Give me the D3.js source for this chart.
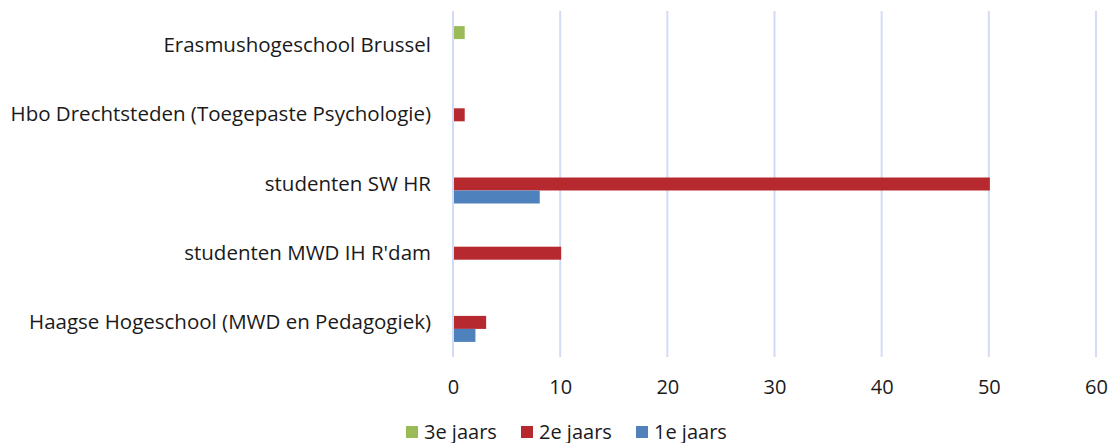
<!DOCTYPE html>
<html>
<head>
<meta charset="utf-8">
<script src="https://cdn.jsdelivr.net/npm/d3@7"></script>
<style>
  body { margin: 0; background: #fff; }
  text { font-family: "Open Sans", "Noto Sans", sans-serif; fill: #1a1a1a; }
</style>
</head>
<body>
<svg id="chart" width="1112" height="443"></svg>
<script>
// categories, top to bottom as shown
var categories = [
  "Erasmushogeschool Brussel",
  "Hbo Drechtsteden (Toegepaste Psychologie)",
  "studenten SW HR",
  "studenten MWD IH R'dam",
  "Haagse Hogeschool (MWD en Pedagogiek)"
];
var series = ["3e jaars", "2e jaars", "1e jaars"];
var jaars3 = [1, 0, 0, 0, 0];
var jaars2 = [0, 1, 50, 10, 3];
var jaars1 = [0, 0, 8, 0, 2];
var xTicks = [0, 10, 20, 30, 40, 50, 60];
var colors = ["#9bbb59", "#b5292f", "#4f81bd"];

var values = [jaars3, jaars2, jaars1];
var margin = { top: 11, right: 15, bottom: 86, left: 453 },
  width = 1112 - margin.left - margin.right,
  height = 443 - margin.top - margin.bottom;

var x = d3.scaleLinear().domain([0, 60]).range([0, 1096 - margin.left]);
var y = d3.scaleBand().domain(categories).range([0, height]);
var inner = d3.scaleBand().domain(series).range([y.bandwidth() / 2 - 19.5, y.bandwidth() / 2 + 19.5]);

var svg = d3.select("#chart")
  .append("g").attr("transform", "translate(" + margin.left + "," + margin.top + ")");

// gridlines
svg.append("g")
  .selectAll("line").data(xTicks).enter().append("line")
  .attr("x1", d => x(d)).attr("x2", d => x(d))
  .attr("y1", 0).attr("y2", height)
  .attr("stroke", "#d3dbf7").attr("stroke-width", 2);

// bars
series.forEach(function (s, i) {
  svg.append("g").selectAll("rect")
    .data(categories.map((c, j) => ({ c: c, v: values[i][j] })).filter(d => d.v > 0))
    .enter().append("rect")
    .attr("x", x(0) + 1)
    .attr("y", d => y(d.c) + inner(s))
    .attr("width", d => x(d.v) - x(0))
    .attr("height", inner.bandwidth())
    .attr("fill", colors[i]);
});

// x axis labels
var xAxis = svg.append("g")
  .attr("transform", "translate(0," + height + ")")
  .call(d3.axisBottom(x).tickValues(xTicks).tickSize(0).tickPadding(23));
xAxis.select(".domain").remove();
xAxis.selectAll("text").style("font-size", "20px").attr("fill", "#1a1a1a")
  .style("font-family", '"Open Sans", "Noto Sans", sans-serif');

// y axis labels
var yAxis = svg.append("g")
  .call(d3.axisLeft(y).tickSize(0).tickPadding(22));
yAxis.select(".domain").remove();
yAxis.selectAll("text").style("font-size", "20.5px").attr("fill", "#1a1a1a")
  .style("font-family", '"Open Sans", "Noto Sans", sans-serif');

// legend
var legendX = [406, 521, 636];
var legend = d3.select("#chart").append("g");
series.forEach(function (s, i) {
  var g = legend.append("g").attr("transform", "translate(" + legendX[i] + ",432)");
  g.append("rect").attr("x", 0).attr("y", -6).attr("width", 12).attr("height", 12).attr("fill", colors[i]);
  g.append("text").attr("x", 18).attr("dy", "0.33em").style("font-size", "20px").text(s);
});
</script>
</body>
</html>
